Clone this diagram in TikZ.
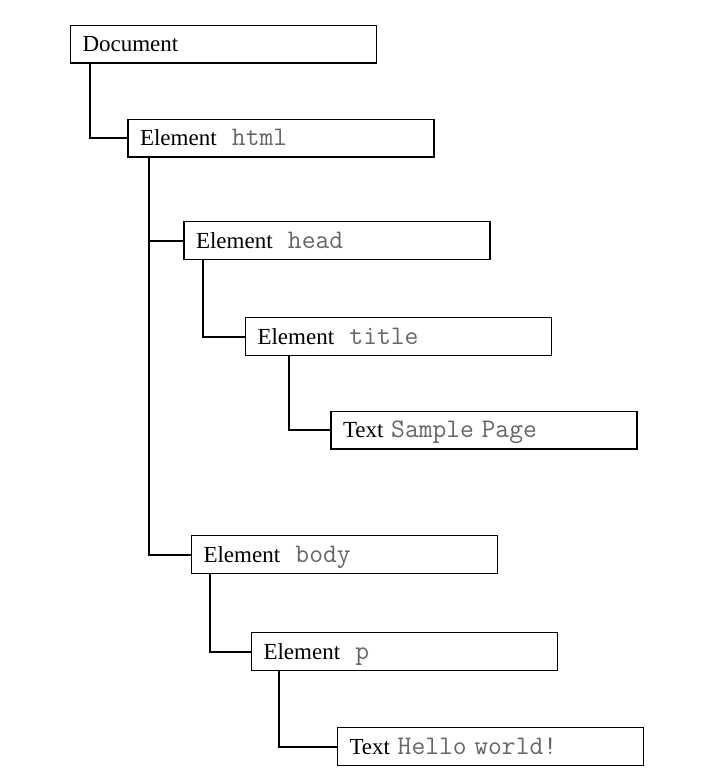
\documentclass[tikz,border=0pt]{standalone}
\usepackage{fontspec}
\setmainfont{Liberation Serif}
\newcommand{\tag}[1]{\texttt{\fontsize{13.4}{15}\selectfont\color{black!60}#1}}

\begin{document}
\begin{tikzpicture}[node distance=48pt,
    elem/.style={draw, line width=0.6pt, inner xsep=6pt, inner ysep=3pt,
        text width=141pt, align=left, text height=10.3pt, text depth=2.6pt,
        font=\fontsize{11.5}{13}\selectfont},
    link/.style={line width=1pt}]

  \useasboundingbox (0,0) rectangle (357.5pt,-391pt);

  \node[elem] (doc) at (111.75pt,-22pt) {Document};
  \node[elem] (html) [below of=doc, xshift=28.75pt, yshift=1pt] {Element \tag{\ html}};
  \node[elem] (head) [below of=html, xshift=28pt, yshift=-3.25pt] {Element \tag{\ head}};
  \node[elem] (title) [below of=head, xshift=30.75pt] {Element \tag{\ title}};
  \node[elem] (sample) [below of=title, xshift=42.75pt, yshift=1.25pt] {Text \tag{Sample Page}};
  \node[elem] (body) [below of=sample, xshift=-69.75pt, yshift=-14.25pt] {Element \tag{\ body}};
  \node[elem] (p) [below of=body, xshift=30pt, yshift=-0.5pt] {Element \tag{\ p}};
  \node[elem] (hello) [below of=p, xshift=43pt, yshift=0.5pt] {Text \tag{Hello world!}};

  \draw[link] ([xshift=10pt]doc.south west) |- (html.west);
  \draw[link] ([xshift=11pt]html.south west) |- (head.west);
  \draw[link] ([xshift=11pt]html.south west) |- (body.west);
  \draw[link] ([xshift=10pt]head.south west) |- (title.west);
  \draw[link] ([xshift=22pt]title.south west) |- (sample.west);
  \draw[link] ([xshift=9.5pt]body.south west) |- (p.west);
  \draw[link] ([xshift=14pt]p.south west) |- (hello.west);

\end{tikzpicture}
\end{document}
